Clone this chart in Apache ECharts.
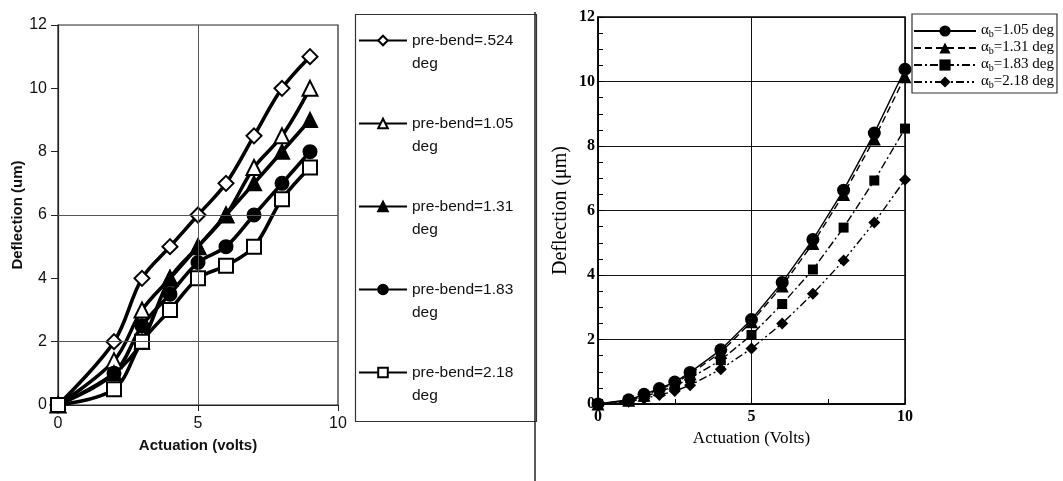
<!DOCTYPE html>
<html><head><meta charset="utf-8">
<script src="https://cdn.jsdelivr.net/npm/echarts@6/dist/echarts.min.js"></script>
<style>html,body{margin:0;padding:0;background:#fff}#c{width:1063px;height:481px}</style>
</head><body><div id="c"></div><script>
// ---- Left panel data (scanned Excel chart) ----
const leftNames = ['pre-bend=.524', 'pre-bend=1.05', 'pre-bend=1.31', 'pre-bend=1.83', 'pre-bend=2.18'];
const leftX = [0, 2, 3, 4, 5, 6, 7, 8, 9];
const left524 = [0, 2, 4, 5, 6, 7, 8.5, 10, 11];
const left105 = [0, 1.4, 3, 4, 5, 6, 7.5, 8.5, 10];
const left131 = [0, 1, 2, 4, 5, 6, 7, 8, 9];
const left183 = [0, 1, 2.5, 3.5, 4.5, 5, 6, 7, 8];
const left218 = [0, 0.5, 2, 3, 4, 4.4, 5, 6.5, 7.5];
const leftYTicks = [0, 2, 4, 6, 8, 10, 12];
const leftXTicks = [0, 5, 10];
const leftGridY = [2, 6];
const leftGridX = [5];

// ---- Right panel data ----
const rightNames = ['1.05', '1.31', '1.83', '2.18'];
const rightX = [0, 1, 1.5, 2, 2.5, 3, 4, 5, 6, 7, 8, 9, 10];
const right105 = [0, 0.13, 0.3, 0.48, 0.68, 0.98, 1.68, 2.62, 3.77, 5.1, 6.63, 8.4, 10.38];
const right131 = [0, 0.12, 0.27, 0.45, 0.64, 0.93, 1.6, 2.55, 3.66, 4.98, 6.5, 8.22, 10.15];
const right183 = [0, 0.1, 0.23, 0.38, 0.55, 0.8, 1.36, 2.14, 3.1, 4.17, 5.47, 6.93, 8.54];
const right218 = [0, 0.07, 0.17, 0.28, 0.4, 0.58, 1.08, 1.72, 2.5, 3.42, 4.45, 5.63, 6.95];
const rightYTicks = [0, 2, 4, 6, 8, 10, 12];
const rightXTicks = [0, 5, 10];

const zip = (xs, ys) => xs.map((x, i) => [x, ys[i]]);

const leftSeriesData = [left524, left105, left131, left183, left218];
const leftSymbols = ['diamond', 'triangle', 'triangle', 'circle', 'rect'];
const leftHollow = [true, true, false, false, true];
const leftSizes = [15, 15, 14, 13, 14];

const rightSeriesData = [right105, right131, right183, right218];
const rightSymbols = ['circle', 'triangle', 'rect', 'diamond'];
const rightSizes = [13, 13, 10, 12];
const rightDash = ['solid', [7, 4], [8, 3, 2, 3], [8, 3, 2, 3, 2, 3]];

const series = [];
leftSeriesData.forEach((d, i) => {
  series.push({
    name: leftNames[i], type: 'line', xAxisIndex: 0, yAxisIndex: 0,
    data: zip(leftX, d), smooth: 0.35, symbol: leftSymbols[i], symbolSize: leftSizes[i],
    lineStyle: { color: '#000', width: 3.6 },
    itemStyle: { color: leftHollow[i] ? '#fff' : '#000', borderColor: '#000', borderWidth: 2 },
    z: 3
  });
});
series.push({
  type: 'line', xAxisIndex: 0, yAxisIndex: 0, data: [], z: 1, silent: true,
  markLine: {
    silent: true, symbol: 'none', label: { show: false },
    lineStyle: { color: '#555', width: 1, type: 'solid' },
    data: leftGridY.map(v => ({ yAxis: v })).concat(leftGridX.map(v => ({ xAxis: v })))
  }
});
rightSeriesData.forEach((d, i) => {
  series.push({
    name: 'r' + rightNames[i], type: 'line', xAxisIndex: 1, yAxisIndex: 1,
    data: zip(rightX, d), smooth: false, symbol: rightSymbols[i], symbolSize: rightSizes[i],
    lineStyle: { color: '#000', width: 1.4, type: rightDash[i] },
    itemStyle: { color: '#000' }, clip: false, z: 3
  });
});

const sansAxisLabel = { fontFamily: 'Liberation Sans', fontSize: 16, color: '#111' };
const serifAxisLabel = { fontFamily: 'Liberation Serif', fontWeight: 'bold', fontSize: 16, color: '#000' };

const option = {
  backgroundColor: '#fff',
  animation: false,
  grid: [
    { left: 58, top: 25, width: 280, height: 380, show: true, borderColor: '#222', borderWidth: 1.2, backgroundColor: 'transparent' },
    { left: 598, top: 17, width: 307, height: 387, show: true, borderColor: '#000', borderWidth: 1.5, backgroundColor: 'transparent' }
  ],
  xAxis: [
    {
      gridIndex: 0, type: 'value', min: leftXTicks[0], max: leftXTicks[leftXTicks.length - 1], interval: 5,
      name: 'Actuation (volts)', nameLocation: 'middle', nameGap: 33,
      nameTextStyle: { fontFamily: 'Liberation Sans', fontWeight: 'bold', fontSize: 15, color: '#111' },
      axisLine: { lineStyle: { color: '#222', width: 1.2 } },
      axisTick: { show: true, inside: false, length: 6, lineStyle: { color: '#222' } },
      axisLabel: Object.assign({ margin: 11 }, sansAxisLabel),
      splitLine: { show: false }
    },
    {
      gridIndex: 1, type: 'value', min: rightXTicks[0], max: rightXTicks[rightXTicks.length - 1], interval: 5,
      name: 'Actuation (Volts)', nameLocation: 'middle', nameGap: 24,
      nameTextStyle: { fontFamily: 'Liberation Serif', fontSize: 17, color: '#000' },
      axisLine: { lineStyle: { color: '#000', width: 1.5 } },
      axisTick: { show: true, inside: true, length: 6, lineStyle: { color: '#000' } },
      minorTick: { show: true, splitNumber: 2, length: 5, lineStyle: { color: '#000' } },
      axisLabel: Object.assign({ margin: 5 }, serifAxisLabel),
      splitLine: { show: true, lineStyle: { color: '#111', width: 1 } }
    }
  ],
  yAxis: [
    {
      gridIndex: 0, type: 'value', min: leftYTicks[0], max: leftYTicks[leftYTicks.length - 1], interval: 2,
      name: 'Deflection (um)', nameLocation: 'middle', nameGap: 32,
      nameTextStyle: { fontFamily: 'Liberation Sans', fontWeight: 'bold', fontSize: 15, color: '#111' },
      axisLine: { show: true, lineStyle: { color: '#222', width: 1.2 } },
      axisTick: { show: true, inside: false, length: 7, lineStyle: { color: '#222' } },
      axisLabel: Object.assign({ margin: 11 }, sansAxisLabel),
      splitLine: { show: false }
    },
    {
      gridIndex: 1, type: 'value', min: rightYTicks[0], max: rightYTicks[rightYTicks.length - 1], interval: 2,
      name: 'Deflection (\u03bcm)', nameLocation: 'middle', nameGap: 27,
      nameTextStyle: { fontFamily: 'Liberation Serif', fontSize: 20, color: '#000' },
      axisLine: { show: true, lineStyle: { color: '#000', width: 1.5 } },
      axisTick: { show: true, inside: true, length: 6, lineStyle: { color: '#000' } },
      minorTick: { show: true, splitNumber: 4, length: 5, lineStyle: { color: '#000' } },
      axisLabel: Object.assign({ margin: 3 }, serifAxisLabel),
      splitLine: { show: true, lineStyle: { color: '#111', width: 1 } }
    }
  ],
  legend: [
    {
      orient: 'vertical', left: 358, top: 6, padding: 0, itemGap: 14,
      itemWidth: 48, itemHeight: 12,
      data: leftNames,
      formatter: n => '\n' + n + '\ndeg',
      textStyle: { fontFamily: 'Liberation Sans', fontSize: 15.5, color: '#111', lineHeight: 23 }
    },
    {
      orient: 'vertical', left: 912, top: 14, padding: [9, 3, 3, 1], itemGap: 1,
      borderColor: '#333', borderWidth: 1.2,
      itemWidth: 62, itemHeight: 14,
      data: rightNames.map(n => 'r' + n),
      formatter: n => '{t|\u03b1}{s|b}{t|=' + n.slice(1) + ' deg}',
      textStyle: {
        fontFamily: 'Liberation Serif', fontSize: 15, color: '#000', lineHeight: 16,
        rich: {
          t: { fontFamily: 'Liberation Serif', fontSize: 15, lineHeight: 16, verticalAlign: 'top', color: '#000' },
          s: { fontFamily: 'Liberation Serif', fontSize: 10, lineHeight: 16, verticalAlign: 'bottom', color: '#000' }
        }
      }
    }
  ],
  graphic: [
    { type: 'rect', left: 353, top: 12, shape: { width: 181, height: 407 }, style: { fill: 'none', stroke: '#333', lineWidth: 1.2 }, silent: true, z: -1 },
    { type: 'line', shape: { x1: 535, y1: 12, x2: 535, y2: 481 }, style: { stroke: '#222', lineWidth: 1.5 }, silent: true }
  ],
  series: series
};
const chart = echarts.init(document.getElementById('c'), null, { renderer: 'canvas' });
chart.setOption(option);
</script></body></html>
